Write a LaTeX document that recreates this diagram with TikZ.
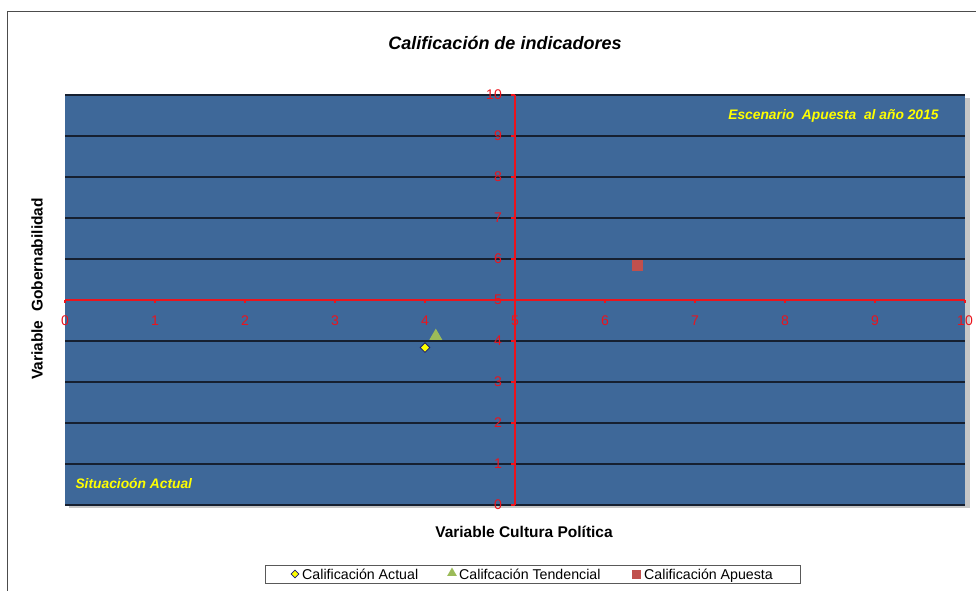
\documentclass[tikz,border=0pt]{standalone}
\usepackage{fontspec}
\setmainfont{Liberation Sans}
\usetikzlibrary{shapes.geometric}
\definecolor{plotblue}{RGB}{62,104,153}
\definecolor{gridrule}{RGB}{22,32,48}
\definecolor{axisred}{RGB}{235,20,28}
\definecolor{markyellow}{RGB}{255,255,0}
\definecolor{marknavy}{RGB}{24,24,112}
\definecolor{markgreen}{RGB}{155,187,89}
\definecolor{markred}{RGB}{192,80,77}
\newcommand{\rotulo}[1]{{\fontsize{15.5}{18}\selectfont\bfseries #1}}
\newcommand{\escena}[1]{{\fontsize{13.8}{16}\selectfont\bfseries\itshape\color{markyellow}#1}}
\tikzset{
  ticklabel/.style={text=axisred,inner sep=0pt,font=\fontsize{14}{16}\selectfont},
  gridline/.style={gridrule,line width=1.3pt},
  axisline/.style={axisred,line width=1.1pt},
  actualmark/.style={diamond,draw=marknavy,fill=markyellow,line width=0.8pt,inner sep=0pt,minimum size=10pt},
  tendmark/.style={regular polygon,regular polygon sides=3,fill=markgreen,inner sep=0pt,minimum size=15pt},
  apuestamark/.style={rectangle,fill=markred,inner sep=0pt,minimum size=11pt},
  legendtext/.style={inner sep=0pt,anchor=base west,font=\fontsize{14.2}{16}\selectfont}
}
\begin{document}
\begin{tikzpicture}[x=1pt,y=1pt]
  \useasboundingbox (0,0) rectangle (976,590);
  \clip (0,0) rectangle (976,590);
  \fill[white] (0,0) rectangle (976,590);
  \draw[gray!60!black,line width=1pt] (7,-10) rectangle (1000,578);
  \node (title) at (505,547) {\fontsize{18}{20}\selectfont\bfseries\itshape Calificación de indicadores};
  % plot area, one unit = 90 x 41
  \begin{scope}[shift={(65,85)},x=90,y=41]
    \fill[black!22] (0.04,-0.08) rectangle (10.05,9.92);
    \fill[plotblue] (0,0) rectangle (10,10);
    \foreach \j in {0,...,10}
      \draw[gridline] (0,\j) -- (10,\j);
    \draw[axisline] (0,5) -- (10,5);
    \draw[axisline] (5,0) -- (5,10);
    \foreach \i in {0,...,10} {
      \draw[axisline] (\i,5) -- ++(0,-3pt);
      \node[ticklabel] (xl\i) at (\i,5) [yshift=-21pt] {\i};
      \draw[axisline] (5,\i) -- ++(-4pt,0);
      \node[ticklabel,anchor=east] (yl\i) at (5,\i) [xshift=-13pt] {\i};
    }
    \node[actualmark] (actual) at (4,3.84) {};
    \node[tendmark] (tendencial) at (4.12,4.12) {};
    \node[apuestamark] (apuesta) at (6.36,5.85) {};
  \end{scope}
  \node[anchor=east] (scenapuesta) at (942,474) {\escena{Escenario\ \ Apuesta\ \ al año 2015}};
  \node[anchor=west] (scenactual) at (72,106) {\escena{Situacioón Actual}};
  \node (xtitle) at (524,58) {\rotulo{Variable Cultura Política}};
  \node[rotate=90] (ytitle) at (37,301) {\rotulo{Variable\ \ Gobernabilidad}};
  % legend
  \draw[gray!70!black,line width=0.8pt] (265,7) rectangle (800,25);
  \node[actualmark,minimum size=8pt] (legactual) at (295,16) {};
  \node[legendtext] (legactualtxt) at (302,11) {Calificación Actual};
  \node[tendmark,minimum size=11pt] (legtend) at (452,17) {};
  \node[legendtext] (legtendtxt) at (459,11) {Califcación Tendencial};
  \node[apuestamark,minimum size=9pt] (legapuesta) at (636,16) {};
  \node[legendtext] (legapuestatxt) at (644,11) {Calificación Apuesta};
\end{tikzpicture}
\end{document}
